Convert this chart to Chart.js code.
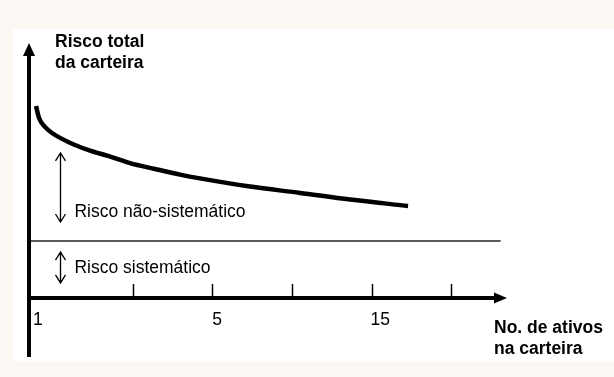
<!DOCTYPE html>
<html>
<head>
<meta charset="utf-8">
<script src="https://cdn.jsdelivr.net/npm/chart.js@4/dist/chart.umd.min.js"></script>
<style>
  html, body { margin: 0; padding: 0; }
  body { width: 614px; height: 377px; background: #fcf9f5; position: relative; overflow: hidden; }
  .sheet { position: absolute; left: 13px; top: 29px; right: 0; bottom: 16px; background: #ffffff; }
  .chart-box { position: absolute; left: 0; top: 0; width: 614px; height: 377px; }
</style>
</head>
<body>
<div class="sheet"></div>
<div class="chart-box"><canvas id="chart" width="614" height="377"></canvas></div>
<script>
// curve: total portfolio risk vs number of assets (conceptual units)
const curveX = [0.088, 0.126, 0.201, 0.289, 0.414, 0.577, 0.766, 0.992, 1.268, 1.582, 1.896, 2.147, 2.775, 3.402, 4.030, 4.758];
const curveY = [7.53, 7.06, 6.71, 6.47, 6.24, 6.00, 5.78, 5.57, 5.29, 5.06, 4.84, 4.69, 4.37, 4.12, 3.86, 3.61];

// systematic risk level
const systematicX = [0, 5.92];
const systematicY = [2.24, 2.24];

// x axis tick marks and labels
const tickPositions = [1.3, 2.3, 3.3, 4.3, 5.3];
const tickLabels = ['1', '5', '15'];
const tickLabelPositions = [0.11, 2.36, 4.41];

// double arrows: [x, yTop, yBottom]
const nonSystematicArrow = [0.39, 5.69, 2.98];
const systematicArrow = [0.39, 1.80, 0.59];

const annotations = [
  { text: 'Risco não-sistemático', x: 0.57, y: 3.37 },
  { text: 'Risco sistemático', x: 0.57, y: 1.18 }
];

const yTitle = ['Risco total', 'da carteira'];
const xTitle = ['No. de ativos', 'na carteira'];

const FONT = "'Liberation Sans', Arial, Helvetica, sans-serif";

const diagramPlugin = {
  id: 'diagram',
  afterDatasetsDraw(chart) {
    const ctx = chart.ctx;
    const xs = chart.scales.x;
    const ys = chart.scales.y;
    const left = xs.getPixelForValue(0);
    const right = xs.getPixelForValue(6);
    const top = ys.getPixelForValue(10);
    const bottom = ys.getPixelForValue(0);

    ctx.save();
    ctx.strokeStyle = '#000';
    ctx.fillStyle = '#000';

    // y axis with arrow
    ctx.lineWidth = 4;
    ctx.beginPath();
    ctx.moveTo(left, top + 10);
    ctx.lineTo(left, bottom + 59);
    ctx.stroke();
    ctx.beginPath();
    ctx.moveTo(left, top);
    ctx.lineTo(left - 6, top + 13);
    ctx.lineTo(left + 6, top + 13);
    ctx.closePath();
    ctx.fill();

    // x axis with arrow
    ctx.beginPath();
    ctx.moveTo(left - 2, bottom);
    ctx.lineTo(right - 10, bottom);
    ctx.stroke();
    ctx.beginPath();
    ctx.moveTo(right, bottom);
    ctx.lineTo(right - 13, bottom - 5.5);
    ctx.lineTo(right - 13, bottom + 5.5);
    ctx.closePath();
    ctx.fill();

    // tick marks pointing up
    ctx.lineWidth = 1.5;
    tickPositions.forEach(v => {
      const px = Math.round(xs.getPixelForValue(v)) + 0.5;
      ctx.beginPath();
      ctx.moveTo(px, bottom - 14);
      ctx.lineTo(px, bottom);
      ctx.stroke();
    });

    // tick labels
    ctx.font = '17.5px ' + FONT;
    ctx.textAlign = 'center';
    ctx.textBaseline = 'alphabetic';
    tickLabels.forEach((t, i) => {
      ctx.fillText(t, xs.getPixelForValue(tickLabelPositions[i]), bottom + 27);
    });

    // double arrows
    const drawDouble = (a) => {
      const px = Math.round(xs.getPixelForValue(a[0])) + 0.5;
      const y1 = ys.getPixelForValue(a[1]);
      const y2 = ys.getPixelForValue(a[2]);
      ctx.lineWidth = 1.3;
      ctx.beginPath();
      ctx.moveTo(px, y1);
      ctx.lineTo(px, y2);
      ctx.moveTo(px - 5, y1 + 8);
      ctx.lineTo(px, y1);
      ctx.lineTo(px + 5, y1 + 8);
      ctx.moveTo(px - 5, y2 - 8);
      ctx.lineTo(px, y2);
      ctx.lineTo(px + 5, y2 - 8);
      ctx.stroke();
    };
    drawDouble(nonSystematicArrow);
    drawDouble(systematicArrow);

    // annotations
    ctx.textAlign = 'left';
    ctx.textBaseline = 'middle';
    annotations.forEach(a => {
      ctx.fillText(a.text, xs.getPixelForValue(a.x), ys.getPixelForValue(a.y));
    });

    // axis titles
    ctx.font = 'bold 17.5px ' + FONT;
    ctx.textBaseline = 'alphabetic';
    yTitle.forEach((t, i) => ctx.fillText(t, left + 26, top + 4 + i * 21));
    xTitle.forEach((t, i) => ctx.fillText(t, right - 13, bottom + 35 + i * 21));

    ctx.restore();
  }
};

new Chart(document.getElementById('chart'), {
  type: 'line',
  data: {
    datasets: [
      {
        data: curveX.map((x, i) => ({ x: x, y: curveY[i] })),
        borderColor: '#000',
        borderWidth: 4.5,
        pointRadius: 0,
        cubicInterpolationMode: 'monotone',
        fill: false
      },
      {
        data: systematicX.map((x, i) => ({ x: x, y: systematicY[i] })),
        borderColor: '#222',
        borderWidth: 1.5,
        pointRadius: 0,
        fill: false
      }
    ]
  },
  options: {
    responsive: false,
    animation: false,
    layout: { padding: { left: 29, right: 107, top: 43, bottom: 79 } },
    scales: {
      x: { type: 'linear', min: 0, max: 6, display: false },
      y: { type: 'linear', min: 0, max: 10, display: false }
    },
    plugins: {
      legend: { display: false },
      tooltip: { enabled: false }
    }
  },
  plugins: [diagramPlugin]
});
</script>
</body>
</html>
